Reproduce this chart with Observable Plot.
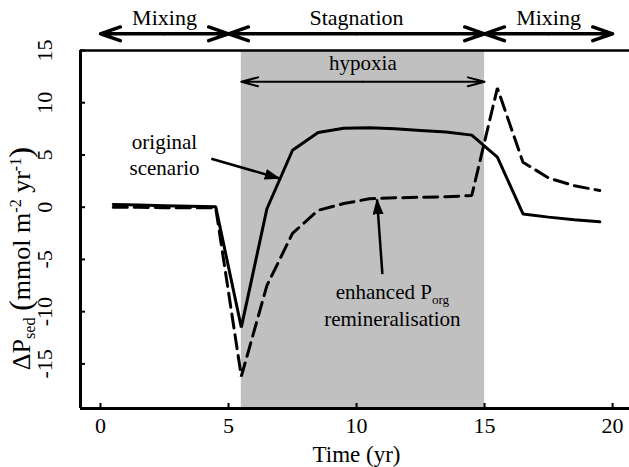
<!DOCTYPE html>
<html><head><meta charset="utf-8">
<script src="https://cdn.jsdelivr.net/npm/d3@7"></script>
<script src="https://cdn.jsdelivr.net/npm/@observablehq/plot@0.6"></script>
<style>body{margin:0;background:#fff;} svg{display:block;} svg text{font-family:"Liberation Serif","DejaVu Serif",serif;}</style>
</head><body><div id="chart"></div>
<script>
// ---- data ----
const years = [0.5,1.5,2.5,3.5,4.5,5.5,6.5,7.5,8.5,9.5,10.5,11.5,12.5,13.5,14.5,15.5,16.5,17.5,18.5,19.5];
const originalScenario = [0.25,0.2,0.15,0.1,0.05,-11.5,-0.15,5.45,7.15,7.55,7.6,7.5,7.35,7.2,6.9,4.8,-0.65,-0.95,-1.2,-1.4];
const enhancedRemin = [0.0,0.0,-0.05,-0.05,-0.05,-16.2,-7.5,-2.5,-0.3,0.35,0.8,0.9,0.95,1.0,1.12,11.4,4.3,2.8,2.05,1.6];
const xTicks = [0,5,10,15,20];
const yTicks = [-15,-10,-5,0,5,10,15];
const xDomain = [-0.78, 20.66];
const yDomain = [-19.27, 15];
const phaseNames = ["Mixing","Stagnation","Mixing"];
const phaseStarts = [0,5,15];
const phaseEnds = [5,15,20];
const phaseArrowY = 16.6;
const hypoxiaName = "hypoxia";
const hypoxiaSpan = [5.5, 15];
const hypoxiaArrowY = 12;
const hypoxiaTextY = 13.8;
const xLabel = "Time (yr)";
const yLabel = "ΔPsed (mmol m-2 yr-1)";
const noteTexts = ["original","scenario","enhanced Porg","remineralisation"];
const noteX = [2.5, 2.5, 11.4, 11.4];
const noteY = [6.2, 3.7, -8.14, -10.69];
const pointerFrom = [[4.33, 4.64],[11.01,-6.4]];
const pointerTo = [[7.0, 2.75],[10.8, 0.75]];

// ---- tables built from the arrays ----
const series = years.flatMap((t,i)=>[
  {t, v: originalScenario[i], s: "original"},
  {t, v: enhancedRemin[i], s: "enhanced"}
]);
const phases = phaseNames.map((n,i)=>({n, a: phaseStarts[i], b: phaseEnds[i], m:(phaseStarts[i]+phaseEnds[i])/2}));
const phaseArrows = phases.flatMap(p=>[{x1:p.m,x2:p.a},{x1:p.m,x2:p.b}]);
const hypMid = (hypoxiaSpan[0]+hypoxiaSpan[1])/2;
const hypArrows = [{x1:hypMid,x2:hypoxiaSpan[0]},{x1:hypMid,x2:hypoxiaSpan[1]}];
const notes = noteTexts.map((t,i)=>({t, x: noteX[i], y: noteY[i]}));
const pointers = pointerFrom.map((f,i)=>({x1:f[0],y1:f[1],x2:pointerTo[i][0],y2:pointerTo[i][1]}));

const serif = "Liberation Serif, DejaVu Serif, serif";

const svg = Plot.plot({
  width: 629, height: 467,
  marginLeft: 80, marginRight: 0, marginTop: 50, marginBottom: 59,
  x: {domain: xDomain},
  y: {domain: yDomain},
  style: {fontFamily: serif, fontSize: "22px", background: "white", color: "black", overflow: "visible"},
  marks: [
    Plot.rect([hypoxiaSpan], {x1: d=>d[0], x2: d=>d[1], fill: "#c0c0c0"}),
    Plot.axisX({ticks: xTicks, tickSize: -5, tickFormat: ()=>"", label: null, strokeWidth: 2}),
    Plot.axisY({ticks: yTicks, tickSize: -5, tickFormat: ()=>"", label: null, strokeWidth: 2}),
    Plot.ruleX([xDomain[0]], {strokeWidth: 3}),
    Plot.ruleY([yDomain[0]], {strokeWidth: 3}),
    Plot.ruleY([yDomain[1]], {strokeWidth: 2.5}),
    Plot.text(xTicks, {x: d=>d, text: d=>String(d), frameAnchor: "bottom", dy: 17.5, lineAnchor: "middle", fontSize: 22}),
    Plot.text(yTicks, {y: d=>d, text: d=>String(d), frameAnchor: "left", dx: -36, rotate: -90, lineAnchor: "middle", textAnchor: "middle", fontSize: 22}),
    Plot.text([xLabel], {frameAnchor: "bottom", x: ()=>10, dy: 46.5, lineAnchor: "middle", fontSize: 23}),
    Plot.text([yLabel], {frameAnchor: "left", dx: -59, dy: 29, rotate: -90, lineAnchor: "middle", textAnchor: "middle", fontSize: 26}),
    Plot.line(series.filter(d=>d.s==="original"), {x: "t", y: "v", stroke: "black", strokeWidth: 3, strokeLinejoin: "miter"}),
    Plot.line(series.filter(d=>d.s==="enhanced"), {x: "t", y: "v", stroke: "black", strokeWidth: 3, strokeDasharray: "14,7", strokeLinejoin: "miter"}),
    Plot.arrow(phaseArrows, {x1: "x1", x2: "x2", y1: ()=>phaseArrowY, y2: ()=>phaseArrowY, stroke: "black", strokeWidth: 3.5, headLength: 9, headAngle: 38}),
    Plot.text(phases, {x: "m", text: "n", frameAnchor: "top", dy: -32.5, lineAnchor: "middle", fontSize: 22}),
    Plot.arrow(hypArrows, {x1: "x1", x2: "x2", y1: ()=>hypoxiaArrowY, y2: ()=>hypoxiaArrowY, stroke: "black", strokeWidth: 2, headLength: 13, headAngle: 30}),
    Plot.text([hypoxiaName], {x: ()=>hypMid, y: ()=>hypoxiaTextY, lineAnchor: "middle", fontSize: 21}),
    Plot.text(notes, {x: "x", y: "y", text: "t", lineAnchor: "middle", fontSize: 21}),
    Plot.link(pointers, {x1: "x1", y1: "y1", x2: "x2", y2: "y2", stroke: "black", strokeWidth: 2.5})
  ]
});

// filled arrowheads on pointers
const root = d3.select(svg);
const defs = root.insert("defs", ":first-child");
defs.append("marker").attr("id","tri").attr("viewBox","0 0 16 11").attr("refX",15).attr("refY",5.5)
  .attr("markerWidth",16).attr("markerHeight",11).attr("markerUnits","userSpaceOnUse").attr("orient","auto")
  .append("path").attr("d","M0,0L16,5.5L0,11Z").attr("fill","black");
root.selectAll('g[aria-label="link"] path').attr("marker-end","url(#tri)");

// rich text (sub/superscripts, enlarged brackets)
function richText(plain, parts) {
  root.selectAll("text").filter(function(){ return this.textContent === plain && this.children.length===0; }).each(function(){
    const t = d3.select(this); t.text(null);
    let shift = 0;
    for (const [s, kind] of parts) {
      const target = kind === "sub" ? 5 : kind === "sup" ? -9 : kind === "big" ? 1 : 0;
      const ts = t.append("tspan").attr("dy", target - shift).text(s);
      if (kind === "sub" || kind === "sup") ts.attr("font-size", "0.62em");
      if (kind === "big") ts.attr("font-size", "1.25em");
      shift = target;
    }
  });
}
richText(yLabel, [["ΔP",null],["sed","sub"],[" ",null],["(","big"],["mmol m",null],["-2","sup"],[" yr",null],["-1","sup"],[")","big"]]);
richText("enhanced Porg", [["enhanced P",null],["org","sub"]]);

document.getElementById("chart").appendChild(svg);
</script>
</body></html>
